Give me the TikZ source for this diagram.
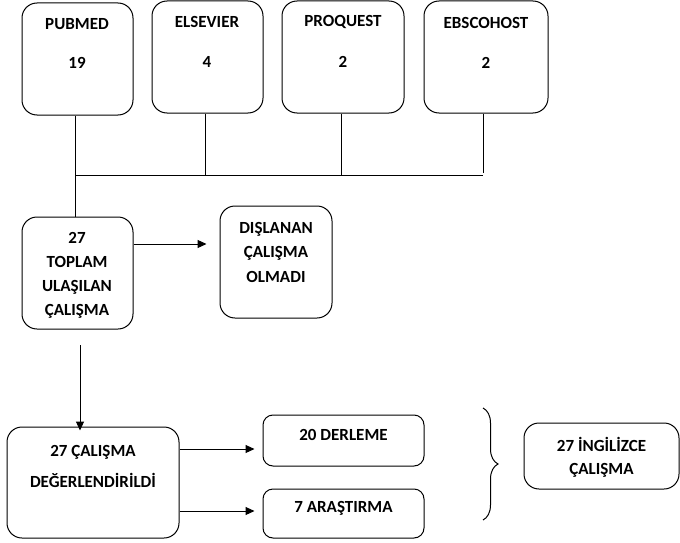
\documentclass[tikz,border=0pt]{standalone}
\usepackage{fontspec}
\setmainfont{Carlito}
\usetikzlibrary{arrows.meta,decorations.pathreplacing}
\begin{document}
\begin{tikzpicture}[x=1pt,y=-1pt,
  box/.style={draw,line width=1pt,rounded corners=15pt,inner sep=0pt},
  sbox/.style={draw,line width=1pt,rounded corners=10pt,inner sep=0pt},
  lbl/.style={font=\fontsize{17}{24}\selectfont\bfseries,align=center,inner sep=0pt},
  conn/.style={line width=1pt},
  arr/.style={line width=1pt,-{Triangle[length=9pt,width=8pt]}}]
\useasboundingbox (0,0) rectangle (680,543);
% source boxes
\node[box,minimum width=111pt,minimum height=112pt] (pubmed) at (77.5,59) {};
\node[lbl] (pubmedT) at (77,24) {PUBMED};
\node[lbl] (pubmedN) at (77,63) {19};
\node[box,minimum width=111pt,minimum height=112pt] (elsevier) at (207.5,57) {};
\node[lbl] (elsevierT) at (207,22) {ELSEVIER};
\node[lbl] (elsevierN) at (207,62) {4};
\node[box,minimum width=122pt,minimum height=112pt] (proquest) at (343,57) {};
\node[lbl] (proquestT) at (343,22) {PROQUEST};
\node[lbl] (proquestN) at (343,62) {2};
\node[box,minimum width=124pt,minimum height=112pt] (ebsco) at (486,57) {};
\node[lbl] (ebscoT) at (486,23) {EBSCOHOST};
\node[lbl] (ebscoN) at (486,63) {2};
% total
\node[box,minimum width=111pt,minimum height=112pt] (toplam) at (77.5,273) {};
\node[lbl] (toplamT) at (77,275) {27\\TOPLAM\\ULAŞILAN\\ÇALIŞMA};
\node[box,minimum width=112pt,minimum height=112pt] (dislanan) at (276,262) {};
\node[lbl,font=\fontsize{17}{24.5}\selectfont\bfseries] (dislananT) at (276,252) {DIŞLANAN\\ÇALIŞMA\\OLMADI};
% evaluated
\node[box,minimum width=172pt,minimum height=111pt] (deger) at (93,482.5) {};
\node[lbl,font=\fontsize{17}{31}\selectfont\bfseries] (degerT) at (93,466) {27 ÇALIŞMA\\DEĞERLENDİRİLDİ};
\node[sbox,minimum width=161pt,minimum height=51pt] (derleme) at (343.5,440.5) {};
\node[lbl] (derlemeT) at (343.5,435) {20 DERLEME};
\node[sbox,minimum width=161pt,minimum height=49pt] (arastirma) at (343.5,513.5) {};
\node[lbl] (arastirmaT) at (343.5,508) {7 ARAŞTIRMA};
\node[box,minimum width=155pt,minimum height=66pt] (ingilizce) at (601.5,456) {};
\node[lbl,font=\fontsize{17}{23}\selectfont\bfseries] (ingilizceT) at (601.5,457) {27 İNGİLİZCE\\ÇALIŞMA};
% junction coordinates
\coordinate (j1) at (75,175);
\coordinate (j2) at (205,175);
\coordinate (j3) at (341,175);
\coordinate (j4) at (483,175);
\coordinate (vstart) at (80,345);
\coordinate (b1) at (483,408);
\coordinate (b2) at (483,520);
% connectors
\draw[conn] (pubmed.south -| j1) -- (toplam.north -| j1);
\draw[conn] (elsevier.south -| j2) -- (j2);
\draw[conn] (proquest.south -| j3) -- (j3);
\draw[conn] (ebsco.south -| j4) -- ([yshift=2pt]j4);
\draw[conn] (j1) -- (j4);
\draw[arr] (toplam.east |- 0,244) -- ([xshift=-13pt]dislanan.west |- 0,244);
\draw[arr] (vstart) -- ([yshift=-4pt]deger.north -| vstart);
\draw[arr] (deger.east |- 0,449) -- ([xshift=-8pt]derleme.west |- 0,449);
\draw[arr] (deger.east |- 0,511) -- ([xshift=-8pt]arastirma.west |- 0,511);
\draw[conn,decorate,decoration={brace,amplitude=15pt}] (b1) -- (b2);
\end{tikzpicture}
\end{document}
